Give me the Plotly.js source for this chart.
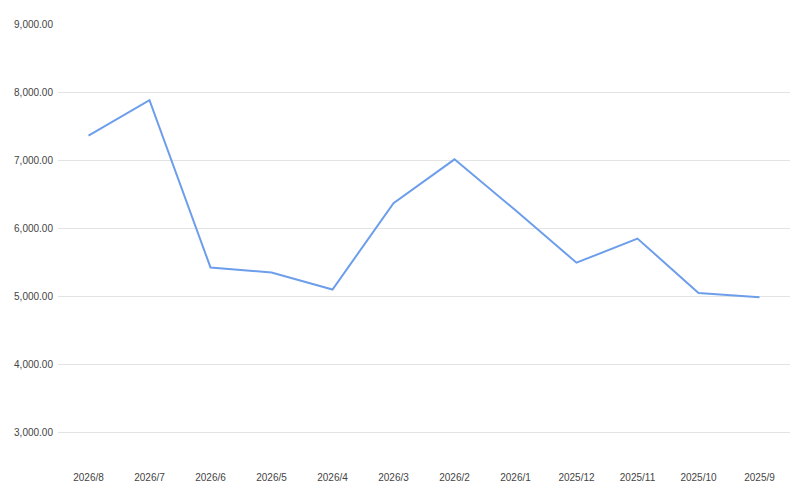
<!DOCTYPE html>
<html>
<head>
<meta charset="utf-8">
<script src="https://cdn.plot.ly/plotly-3.0.1.min.js"></script>
<style>
html,body{margin:0;padding:0;background:#fff;}
#chart{width:800px;height:499px;}
</style>
</head>
<body>
<div id="chart"></div>
<script>
const categories = ["2026/8","2026/7","2026/6","2026/5","2026/4","2026/3","2026/2","2026/1","2025/12","2025/11","2025/10","2025/9"];
const values = [7360, 7880, 5420, 5345, 5095, 6365, 7010, 6260, 5490, 5845, 5045, 4980];
const yTicks = [3000, 4000, 5000, 6000, 7000, 8000, 9000];

const trace = {
  type: 'scatter',
  mode: 'lines',
  x: categories,
  y: values,
  line: {color: '#6d9eeb', width: 2},
  hoverinfo: 'x+y'
};

const layout = {
  width: 800,
  height: 499,
  margin: {l: 58, r: 10, t: 24, b: 33},
  paper_bgcolor: '#ffffff',
  plot_bgcolor: '#ffffff',
  showlegend: false,
  font: {family: 'Liberation Sans, Arial, sans-serif', size: 10, color: '#444444'},
  xaxis: {
    type: 'category',
    range: [-0.5, 11.5],
    showgrid: false,
    zeroline: false,
    showline: false,
    ticks: '',
    ticklabelstandoff: 4,
    tickfont: {size: 10, color: '#444444'}
  },
  yaxis: {
    range: [2500, 9000.5],
    tickvals: yTicks,
    tickformat: ',.2f',
    showgrid: true,
    gridcolor: '#e3e3e3',
    gridwidth: 1,
    zeroline: false,
    showline: false,
    ticks: '',
    ticklabelstandoff: 4,
    tickfont: {size: 10, color: '#444444'}
  }
};

Plotly.newPlot('chart', [trace], layout, {displayModeBar: false, staticPlot: true});
</script>
</body>
</html>
